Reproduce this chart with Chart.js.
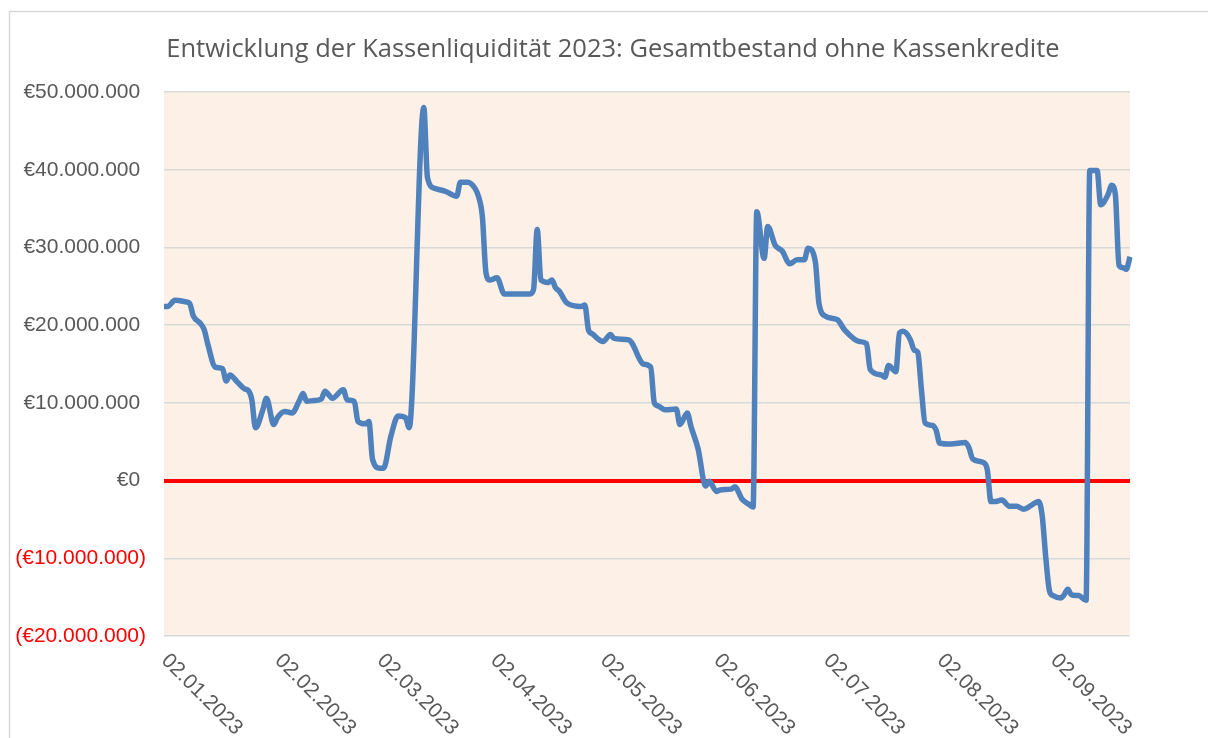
<!DOCTYPE html>
<html>
<head>
<meta charset="utf-8">
<script src="https://cdn.jsdelivr.net/npm/chart.js@4.4.0/dist/chart.umd.min.js"></script>
<style>
  html, body { margin: 0; padding: 0; background: #fff; }
  #wrap { width: 1208px; height: 738px; }
</style>
</head>
<body>
<div id="wrap"><canvas id="myChart"></canvas></div>
<script>
var chartTitle = 'Entwicklung der Kassenliquidität 2023: Gesamtbestand ohne Kassenkredite';

// first day of the axis and number of days shown
var firstDay = [2023, 0, 2];
var dayCount = 265;

// tick labels shown under the axis
var tickLabels = ['02.01.2023', '02.02.2023', '02.03.2023', '02.04.2023', '02.05.2023',
                  '02.06.2023', '02.07.2023', '02.08.2023', '02.09.2023'];

// days after 02.01.2023 and the balance on that day (Mio. €)
var dayOffsets = [0, 1, 3, 6, 7, 8, 10, 11, 12, 14, 16, 17, 18, 20, 22, 23, 24, 25, 27, 28,
                  30, 31, 33, 35, 37, 38, 39, 41, 43, 44, 46, 49, 50, 52, 53, 55, 56, 57, 59, 60,
                  62, 64, 66, 67, 71, 72, 74, 77, 80, 81, 83, 85, 86, 87, 88, 89, 91, 93, 100, 101,
                  102, 103, 105, 106, 107, 108, 110, 114, 115, 116, 117, 120, 122, 123, 127, 128, 130, 131, 133, 134,
                  135, 137, 140, 141, 143, 144, 146, 148, 149, 151, 152, 155, 156, 158, 160, 161, 162, 164, 165, 167,
                  169, 171, 173, 175, 176, 178, 179, 181, 184, 186, 190, 192, 193, 196, 197, 198, 200, 201, 202, 204,
                  205, 206, 207, 208, 210, 211, 212, 215, 219, 220, 221, 224, 225, 226, 227, 229, 231, 233, 235, 237,
                  239, 240, 241, 242, 243, 245, 246, 247, 248, 250, 252, 253, 255, 256, 258, 259, 260, 261, 262, 263,
                  264];
var balanceMio = [22.4, 22.4, 23.2, 23.0, 22.8, 21.2, 20.2, 19.4, 17.5, 14.6, 14.4, 12.8, 13.6, 12.7, 11.8, 11.6, 10.4, 6.8, 9.1, 10.6,
                  7.2, 8.1, 8.9, 8.7, 10.3, 11.2, 10.2, 10.3, 10.5, 11.5, 10.6, 11.7, 10.4, 10.2, 7.6, 7.3, 7.6, 2.7, 1.6, 1.6,
                  5.7, 8.3, 8.1, 6.8, 48.0, 39.0, 37.6, 37.2, 36.6, 38.4, 38.4, 37.6, 36.5, 34.0, 26.7, 25.8, 26.1, 24.0, 24.0, 24.6,
                  32.3, 25.8, 25.5, 25.8, 24.8, 24.4, 22.9, 22.4, 22.6, 19.4, 18.9, 17.9, 18.8, 18.3, 18.1, 17.6, 15.6, 15.0, 14.6, 10.0,
                  9.6, 9.1, 9.2, 7.2, 8.7, 7.0, 4.0, -0.7, -0.1, -1.4, -1.2, -1.1, -0.8, -2.4, -3.1, -3.4, 34.6, 28.6, 32.7, 30.3,
                  29.5, 27.9, 28.4, 28.4, 29.9, 28.2, 22.8, 21.1, 20.7, 19.4, 17.9, 17.6, 14.3, 13.6, 13.3, 14.8, 14.0, 19.0, 19.2, 18.1,
                  16.8, 16.5, 11.7, 7.4, 7.1, 6.5, 4.8, 4.7, 4.9, 4.2, 2.8, 2.3, 1.4, -2.7, -2.7, -2.5, -3.3, -3.3, -3.7, -3.2,
                  -2.7, -4.5, -10.0, -14.2, -14.8, -15.1, -14.7, -14.0, -14.7, -14.8, -15.4, 39.9, 39.9, 35.5, 36.8, 38.0, 36.8, 27.7, 27.4, 27.2,
                  28.8];

function pad2(n) { return (n < 10 ? '0' : '') + n; }

var dayLabels = [];
for (var i = 0; i < dayCount; i++) {
    var dt = new Date(firstDay[0], firstDay[1], firstDay[2] + i);
    dayLabels.push(pad2(dt.getDate()) + '.' + pad2(dt.getMonth() + 1) + '.' + dt.getFullYear());
}

var points = dayOffsets.map(function(d, i) {
    return { x: dayLabels[d], y: balanceMio[i] * 1000000 };
});

function euro(v) {
    var s = String(Math.abs(Math.round(v))).replace(/\B(?=(\d{3})+(?!\d))/g, '.');
    if (v < 0) return '(€' + s + ')';
    return '€' + s + ' ';
}

var axisFont = { family: '"Liberation Sans", Arial, sans-serif', size: 21 };

// chart frame, plot background and title
var decoPlugin = {
    id: 'deco',
    beforeDraw: function(chart) {
        var c = chart.ctx, a = chart.chartArea;
        c.save();
        c.fillStyle = '#fff';
        c.fillRect(0, 0, chart.width, chart.height);
        c.strokeStyle = '#d9d9d9';
        c.lineWidth = 1.5;
        c.strokeRect(9.5, 11.5, chart.width + 50, chart.height + 50);
        c.fillStyle = '#fdf0e6';
        c.fillRect(a.left, a.top, a.right - a.left, a.bottom - a.top);
        c.fillStyle = '#595959';
        c.font = '25.5px "Open Sans", sans-serif';
        c.textAlign = 'center';
        c.textBaseline = 'middle';
        c.fillText(chartTitle, 613, 50);
        c.restore();
    },
    afterDraw: function(chart) {
        // rotated date labels, going down to the right
        var c = chart.ctx, xs = chart.scales.x;
        c.save();
        c.fillStyle = '#595959';
        c.font = axisFont.size + 'px ' + axisFont.family;
        c.textAlign = 'left';
        c.textBaseline = 'top';
        tickLabels.forEach(function(lab) {
            var px = xs.getPixelForValue(dayLabels.indexOf(lab));
            c.save();
            c.translate(px + 8, 650);
            c.rotate(Math.PI / 4);
            c.fillText(lab, 0, 0);
            c.restore();
        });
        c.restore();
    }
};

var ctx = document.getElementById('myChart');

var graphData = {
    type: 'line',
    data: {
        labels: dayLabels,
        datasets: [{
            label: 'Gesamtbestand',
            data: points,
            borderColor: '#4f81bd',
            borderWidth: 5.5,
            pointRadius: 0,
            cubicInterpolationMode: 'monotone',
            borderJoinStyle: 'round',
            fill: false
        }]
    },
    options: {
        responsive: true,
        maintainAspectRatio: false,
        animation: false,
        layout: { padding: { left: 0, right: 78, top: 92, bottom: 102 } },
        plugins: { legend: { display: false }, tooltip: { enabled: false } },
        scales: {
            x: { display: false, offset: false },
            y: {
                min: -20000000,
                max: 50000000,
                afterFit: function(scale) { scale.width = 164; },
                border: { display: false },
                grid: {
                    drawTicks: false,
                    color: function(c) { return c.tick && c.tick.value === 0 ? '#ff0000' : '#d9d9d9'; },
                    lineWidth: function(c) { return c.tick && c.tick.value === 0 ? 4 : 1.5; }
                },
                ticks: {
                    stepSize: 10000000,
                    padding: 18,
                    font: axisFont,
                    color: function(c) { return c.tick && c.tick.value < 0 ? '#ff0000' : '#595959'; },
                    callback: function(value) { return euro(value); }
                }
            }
        }
    },
    plugins: [decoPlugin]
};

var myChart = new Chart(ctx, graphData);
</script>
</body>
</html>
